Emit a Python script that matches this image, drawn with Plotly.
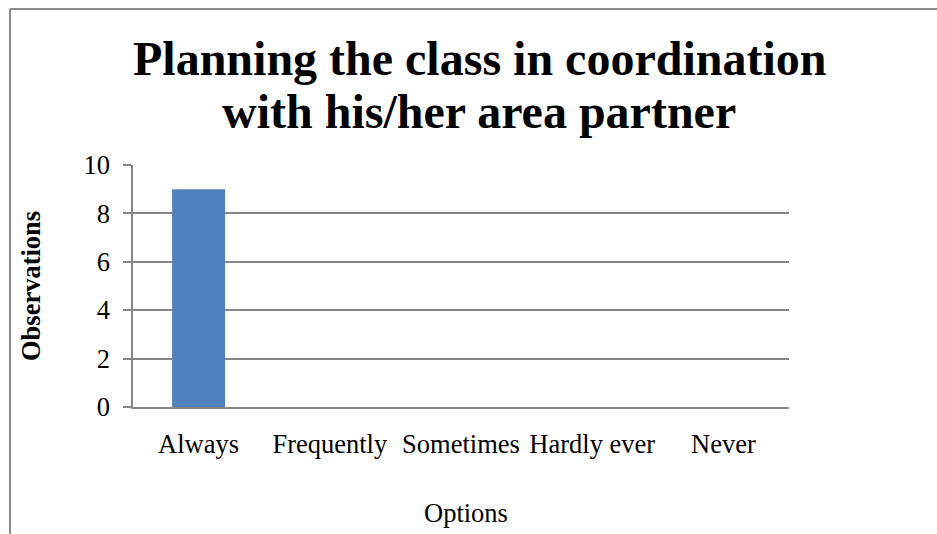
import plotly.graph_objects as go

# Survey data
options = ["Always", "Frequently", "Sometimes", "Hardly ever", "Never"]
observations = [9, 0, 0, 0, 0]
y_ticks = [0, 2, 4, 6, 8, 10]

title_line1 = "Planning the class in coordination"
title_line2 = "with his/her area partner"

W, H = 937, 534
L, R, T, B = 133, 148, 165, 127
PW, PH = W - L - R, H - T - B

SERIF = "Liberation Serif, Times New Roman, serif"
GRID = "#868686"
LABEL_SIZE = 26.5


def px_x(x):
    return (x - L) / PW


def px_y(y):
    return 1 - (y - T) / PH


fig = go.Figure(
    go.Bar(
        x=options,
        y=observations,
        marker=dict(color="#4F81BD", line=dict(width=0)),
        width=0.404,
    )
)

fig.update_layout(
    width=W,
    height=H,
    margin=dict(l=L, r=R, t=T, b=B),
    paper_bgcolor="white",
    plot_bgcolor="white",
    showlegend=False,
    font=dict(family=SERIF, size=LABEL_SIZE, color="black"),
    xaxis=dict(
        showline=True,
        linecolor=GRID,
        linewidth=1.5,
        showgrid=False,
        ticks="",
        ticklabelstandoff=12,
        tickfont=dict(family=SERIF, size=LABEL_SIZE, color="black"),
    ),
    yaxis=dict(
        range=[0, 10],
        tickvals=y_ticks,
        showline=True,
        linecolor=GRID,
        linewidth=1.5,
        showgrid=True,
        gridcolor=GRID,
        gridwidth=1.5,
        zeroline=False,
        ticks="outside",
        ticklen=8,
        tickwidth=1.5,
        tickcolor=GRID,
        ticklabelstandoff=8,
        tickfont=dict(family=SERIF, size=LABEL_SIZE, color="black"),
    ),
    annotations=[
        dict(text="<b>%s</b>" % title_line1, xref="paper", yref="paper",
             x=px_x(479), y=px_y(58), xanchor="center", yanchor="middle",
             showarrow=False, font=dict(family=SERIF, size=48, color="black")),
        dict(text="<b>%s</b>" % title_line2, xref="paper", yref="paper",
             x=px_x(479), y=px_y(112), xanchor="center", yanchor="middle",
             showarrow=False, font=dict(family=SERIF, size=48, color="black")),
        dict(text="Options", xref="paper", yref="paper",
             x=px_x(466), y=px_y(513), xanchor="center", yanchor="middle",
             showarrow=False, font=dict(family=SERIF, size=LABEL_SIZE, color="black")),
        dict(text="<b>Observations</b>", xref="paper", yref="paper",
             x=px_x(31), y=px_y(286), xanchor="center", yanchor="middle",
             textangle=-90, showarrow=False,
             font=dict(family=SERIF, size=LABEL_SIZE, color="black")),
    ],
    shapes=[
        dict(type="line", xref="paper", yref="paper",
             x0=px_x(10), x1=px_x(940), y0=px_y(9), y1=px_y(9),
             line=dict(color="#898989", width=2)),
        dict(type="line", xref="paper", yref="paper",
             x0=px_x(10), x1=px_x(10), y0=px_y(9), y1=px_y(540),
             line=dict(color="#898989", width=2)),
    ],
)

fig.write_html("out.html")
